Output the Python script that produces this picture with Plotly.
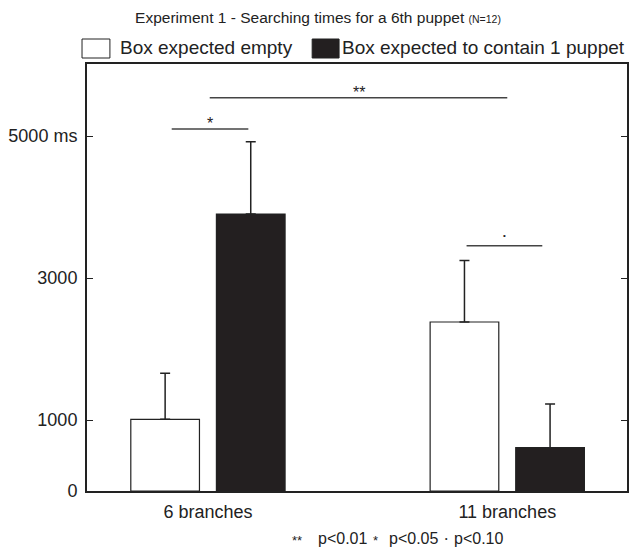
import plotly.graph_objects as go

# ---- data ----
categories = ["6 branches", "11 branches"]
empty_means = [1010, 2380]
empty_err = [650, 865]
puppet_means = [3900, 610]
puppet_err = [1020, 615]
series_names = ["Box expected empty", "Box expected to contain 1 puppet"]
ytick_vals = [0, 1000, 3000, 5000]
ytick_text = ["0", "1000", "3000", "5000 ms"]
# significance brackets: (x0, x1, y, label) in data units
sig_x0 = [-0.121, 0.006, 0.864]
sig_x1 = [0.135, 1.0, 1.117]
sig_y = [5100, 5540, 3455]
sig_label = ["*", "**", "•"]

FONT = "Liberation Sans, Arial, sans-serif"
INK = "#222222"
BLACKFILL = "#231f20"

fig = go.Figure()
fig.add_trace(go.Bar(
    x=categories, y=empty_means, name=series_names[0],
    marker=dict(color="white", line=dict(color=INK, width=1.2)),
    error_y=dict(type="data", array=empty_err, arrayminus=[0, 0], symmetric=False,
                 color=INK, thickness=1.5, width=5),
    showlegend=False,
))
fig.add_trace(go.Bar(
    x=categories, y=puppet_means, name=series_names[1],
    marker=dict(color=BLACKFILL, line=dict(color=INK, width=1.2)),
    error_y=dict(type="data", array=puppet_err, arrayminus=[0, 0], symmetric=False,
                 color=INK, thickness=1.5, width=5),
    showlegend=False,
))

shapes = []
annotations = []
for x0, x1, y, lab in zip(sig_x0, sig_x1, sig_y, sig_label):
    shapes.append(dict(type="line", xref="x", yref="y", x0=x0, x1=x1, y0=y, y1=y,
                       line=dict(color="#444444", width=1.5)))
    is_dot = lab == "•"
    annotations.append(dict(x=(x0 + x1) / 2, y=y, xref="x", yref="y", text=lab,
                            showarrow=False, yanchor="middle", yshift=10 if is_dot else 5,
                            font=dict(size=8 if is_dot else 16, color=INK, family=FONT)))

# manual legend at top
shapes.append(dict(type="rect", xref="paper", yref="paper",
                   x0=(82 - 87) / 542, x1=(110 - 87) / 542,
                   y0=(491 - 58) / 427, y1=(491 - 39) / 427,
                   line=dict(color=INK, width=1), fillcolor="white"))
shapes.append(dict(type="rect", xref="paper", yref="paper",
                   x0=(313 - 87) / 542, x1=(340 - 87) / 542,
                   y0=(491 - 58) / 427, y1=(491 - 39) / 427,
                   line=dict(color=INK, width=1), fillcolor=BLACKFILL))
annotations.append(dict(x=(118 - 87) / 542, y=(491 - 48) / 427, xref="paper", yref="paper",
                        text=series_names[0], showarrow=False, xanchor="left", yanchor="middle",
                        font=dict(size=19, color=INK, family=FONT)))
annotations.append(dict(x=(341 - 87) / 542, y=(491 - 48) / 427, xref="paper", yref="paper",
                        text=series_names[1], showarrow=False, xanchor="left", yanchor="middle",
                        font=dict(size=19, color=INK, family=FONT)))

# p-value key at bottom
key_items = [("**", 298, 13, -2), ("p<0.01", 343, 16, 0), ("*", 377, 13, -2), ("p<0.05", 415, 16, 0),
             ("•", 448, 7, 0), ("p<0.10", 480, 16, 0)]
for txt, px, sz, ys in key_items:
    annotations.append(dict(x=(px - 87) / 542, y=-(538 - 491) / 427, xref="paper", yref="paper",
                            text=txt, showarrow=False, xanchor="center", yanchor="middle", yshift=ys,
                            font=dict(size=sz, color=INK, family=FONT)))

fig.update_layout(
    width=630, height=550,
    margin=dict(l=87, r=1, t=64, b=59),
    paper_bgcolor="white", plot_bgcolor="white",
    barmode="group", bargap=0.428, bargroupgap=0.198,
    font=dict(family=FONT, size=18, color=INK),
    title=dict(text="Experiment 1 - Searching times for a 6th puppet <span style='font-size:10.5px'>(N=12)</span>",
               x=318 / 630, xanchor="center", y=1 - 18 / 550, yanchor="middle",
               font=dict(size=15.5, color=INK, family=FONT)),
    shapes=shapes, annotations=annotations,
)
fig.update_xaxes(range=[-0.404, 1.40], showline=True, mirror=True, linecolor=INK, linewidth=2,
                 ticks="", showgrid=False, zeroline=False, tickfont=dict(size=18),
                 ticklabelstandoff=3)
fig.update_yaxes(range=[0, 6014], showline=True, mirror="allticks", linecolor=INK, linewidth=2,
                 ticks="inside", ticklen=6, tickcolor=INK, tickwidth=1.2,
                 tickvals=ytick_vals, ticktext=ytick_text, showgrid=False, zeroline=False,
                 tickfont=dict(size=18), ticklabelstandoff=4)

fig.write_html("out.html", config={"displayModeBar": False},
               post_script="document.body.style.margin='0px';")
